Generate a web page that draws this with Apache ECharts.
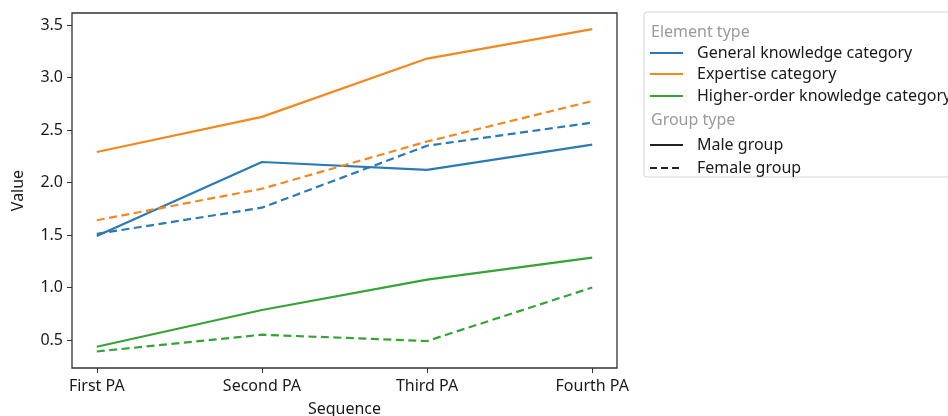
<!DOCTYPE html>
<html>
<head>
<meta charset="utf-8">
<script src="https://cdn.jsdelivr.net/npm/echarts@6/dist/echarts.min.js"></script>
<style>html,body{margin:0;padding:0;background:#fff;}#c{width:948px;height:416px;}</style>
</head>
<body>
<div id="c"></div>
<script>
var categories = ['First PA', 'Second PA', 'Third PA', 'Fourth PA'];
var yTicks = [0.5, 1.0, 1.5, 2.0, 2.5, 3.0, 3.5];
var generalMale = [1.49, 2.195, 2.12, 2.36];
var generalFemale = [1.51, 1.76, 2.35, 2.57];
var expertiseMale = [2.29, 2.625, 3.18, 3.46];
var expertiseFemale = [1.64, 1.94, 2.39, 2.775];
var higherMale = [0.435, 0.785, 1.075, 1.285];
var higherFemale = [0.39, 0.55, 0.49, 1.0];
var elementNames = ['General knowledge category', 'Expertise category', 'Higher-order knowledge category'];
var groupNames = ['Male group', 'Female group'];
var colors = ['#2a7ab5', '#f5871f', '#35a335'];

var FONT = '"Noto Sans", "Open Sans", sans-serif';
function pts(arr){ return arr.map(function(v,i){ return [i, v]; }); }
function mk(name, arr, color, dashed){
  return {type:'line', name:name, data:pts(arr), showSymbol:false, symbol:'none', silent:true,
    lineStyle:{color:color, width:2.2, type: dashed ? [8,4.5] : 'solid'}, z: 3};
}
var series = [
  mk('GM', generalMale, colors[0], false),
  mk('GF', generalFemale, colors[0], true),
  mk('EM', expertiseMale, colors[1], false),
  mk('EF', expertiseFemale, colors[1], true),
  mk('HM', higherMale, colors[2], false),
  mk('HF', higherFemale, colors[2], true)
];

// legend built from names
var lx = 644, ly = 12;
var rowYs = [32, 53, 74, 96, 120, 145, 168];
var g = [{type:'rect', shape:{x:lx, y:ly, width:320, height:165, r:3}, style:{fill:'#fff', stroke:'#d4d4d4', lineWidth:1}, z:10}];
var rows = [];
rows.push({title:'Element type'});
elementNames.forEach(function(n,i){ rows.push({name:n, color:colors[i], dash:false}); });
rows.push({title:'Group type'});
groupNames.forEach(function(n,i){ rows.push({name:n, color:'#222', dash:i===1}); });
rows.forEach(function(r, i){
  var cy = rowYs[i];
  if (r.title){
    g.push({type:'text', x:lx+7, y:cy, style:{text:r.title, fill:'#9a9a9a', font:'16px '+FONT, textVerticalAlign:'middle'}, z:11});
  } else {
    g.push({type:'line', shape:{x1:lx+6, y1:cy, x2:lx+39, y2:cy}, style:{stroke:r.color, lineWidth:2, lineDash: r.dash ? [7,4] : null}, z:11});
    g.push({type:'text', x:lx+53, y:cy, style:{text:r.name, fill:'#1a1a1a', font:'16px '+FONT, textVerticalAlign:'middle'}, z:11});
  }
});

var chart = echarts.init(document.getElementById('c'), null, {renderer:'canvas'});
chart.setOption({
  animation:false,
  backgroundColor:'#fff',
  grid:{left:72, top:13, width:545, height:355, show:true, borderColor:'#333', borderWidth:1.3, backgroundColor:'transparent', containLabel:false, outerBoundsMode:'none'},
  xAxis:{type:'value', min:-0.15, max:3.15,
    name:'Sequence', nameLocation:'middle', nameGap:33,
    nameTextStyle:{fontFamily:FONT, fontSize:16, color:'#1a1a1a'},
    axisLine:{show:false, onZero:false}, splitLine:{show:false},
    axisTick:{show:true, length:5, customValues:[0,1,2,3], lineStyle:{color:'#333'}},
    axisLabel:{customValues:[0,1,2,3], formatter:function(v){ return categories[Math.round(v)]; }, fontFamily:FONT, fontSize:16, color:'#1a1a1a', margin:10}
  },
  yAxis:{type:'value', min:0.233, max:3.614,
    name:'Value', nameLocation:'middle', nameGap:46,
    nameTextStyle:{fontFamily:FONT, fontSize:16, color:'#1a1a1a'},
    axisLine:{show:false, onZero:false}, splitLine:{show:false},
    axisTick:{show:true, length:5, customValues:yTicks, lineStyle:{color:'#333'}},
    axisLabel:{customValues:yTicks, formatter:function(v){ return v.toFixed(1); }, fontFamily:FONT, fontSize:16, color:'#1a1a1a', margin:9}
  },
  series: series,
  graphic: g
});
</script>
</body>
</html>
